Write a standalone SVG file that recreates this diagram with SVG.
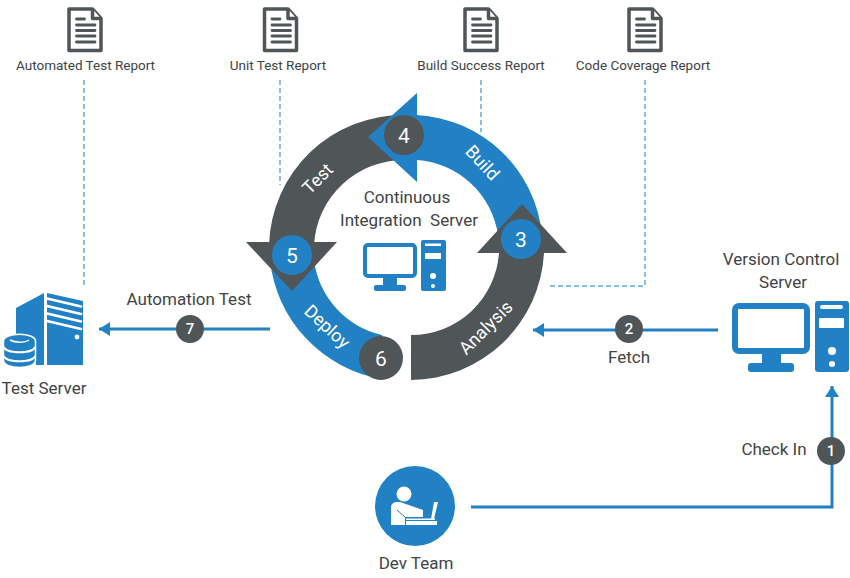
<svg xmlns="http://www.w3.org/2000/svg" width="850" height="578" viewBox="0 0 850 578">
<style>
text{font-family:Roboto,"Liberation Sans",sans-serif;fill:#3f4345;text-anchor:middle}
.lbl{font-size:17px}.rep{font-size:13.500px}.ctr{font-size:17px}
.seg{font-size:18px;fill:#fff}.num{font-size:21px;fill:#fff}.sm{font-size:15px;font-weight:500;fill:#fff}
.b{fill:#2181c4}.g{fill:#505558}.w{fill:#fff}
.dash{fill:none;stroke:#5aa5da;stroke-width:1.400;stroke-dasharray:5 3}
.conn{fill:none;stroke:#2181c4;stroke-width:3}
.doc{fill:#fff;stroke:#505558;stroke-width:3.500;stroke-linejoin:round}
.docl{stroke:#505558;stroke-width:2.800;stroke-linecap:round}
</style>
<defs>
<marker id="ah" markerUnits="userSpaceOnUse" markerWidth="12" markerHeight="14" refX="11" refY="7" orient="auto"><path d="M0 0L11 7L0 14Z" fill="#2181c4"/></marker>
<g id="doc"><path class="doc" d="M-16.500 -21H7L15.500 -11.500V20.500H-16.500Z"/><path class="doc" d="M7 -21V-11.500H15.500" fill="none"/><path class="docl" d="M-9 -11H-1M-9 -5H9.500M-9 0.500H9.500M-9 6H9.500M-9 12H9.500"/></g>
</defs>
<g id="connectors">
<path class="dash" d="M84 80V287"/><path class="dash" d="M280 80V185"/><path class="dash" d="M481 80V132"/><path class="dash" d="M645 80V286H548"/>
<path class="conn" marker-end="url(#ah)" d="M270 329H99"/>
<path class="conn" marker-end="url(#ah)" d="M718 330H533"/>
<path class="conn" marker-end="url(#ah)" d="M471 507H832V386"/>
<circle class="g" cx="190" cy="329" r="14"/><text class="sm" x="190" y="334">7</text>
<circle class="g" cx="629" cy="329" r="14"/><text class="sm" x="629" y="334">2</text>
<circle class="g" cx="831" cy="451" r="14"/><text class="sm" x="831" y="456">1</text>
<text class="lbl" x="189" y="305">Automation Test</text>
<text class="lbl" x="629" y="363">Fetch</text>
<text class="lbl" x="774" y="455">Check In</text>
</g>
<g id="report-automated"><use href="#doc" x="85.500" y="30"/><text class="rep" x="85.500" y="70">Automated Test Report</text></g>
<g id="report-unit"><use href="#doc" x="281" y="30"/><text class="rep" x="278" y="70">Unit Test Report</text></g>
<g id="report-build"><use href="#doc" x="481.500" y="30"/><text class="rep" x="481" y="70">Build Success Report</text></g>
<g id="report-coverage"><use href="#doc" x="645.500" y="30"/><text class="rep" x="643" y="70">Code Coverage Report</text></g>
<g id="ci-ring">
<path class="b" d="M417 115A133 133 0 0 1 542 235L498 235A88 88 0 0 0 417 160Z"/>
<path class="g" d="M411 380A134 134 0 0 0 544 253H499A88 88 0 0 1 411 335Z"/>
<path class="g" d="M477 253H567L522 204Z"/>
<path class="g" d="M405 115A134 134 0 0 0 269 245H314A90 90 0 0 1 405 160Z"/>
<path class="b" d="M417 93V182L368 137Z"/>
<path class="b" d="M270 260A135 135 0 0 0 382 379V335A88 88 0 0 1 314 260Z"/>
<path class="g" d="M246 242H337L292 291Z"/>
<circle class="b" cx="521" cy="239" r="20"/><text class="num" x="521" y="247">3</text>
<circle class="g" cx="404" cy="135" r="20"/><text class="num" x="404" y="143">4</text>
<circle class="b" cx="292" cy="255" r="20"/><text class="num" x="292" y="263">5</text>
<circle class="g" cx="381" cy="358" r="22"/><text class="num" x="381" y="366">6</text>
<text class="seg" transform="translate(478 167) rotate(47)">Build</text>
<text class="seg" transform="translate(322 183) rotate(-45)">Test</text>
<text class="seg" transform="translate(323 331) rotate(43)">Deploy</text>
<text class="seg" transform="translate(490 332) rotate(-45)">Analysis</text>
</g>
<g id="ci-server">
<text class="ctr" x="407" y="203">Continuous</text>
<text class="ctr" x="409" y="226" xml:space="preserve">Integration  Server</text>
<rect x="365" y="245" width="50" height="31" rx="3" fill="#fff" stroke="#2181c4" stroke-width="4"/>
<rect class="b" x="383" y="277" width="14" height="9"/><rect class="b" x="374" y="285" width="32" height="6" rx="2"/>
<rect class="b" x="421" y="240" width="25" height="51" rx="2"/>
<rect class="w" x="425" y="243.500" width="16" height="2.500"/><rect class="w" x="425" y="253" width="16" height="6"/>
<circle class="w" cx="433" cy="276" r="3"/><circle class="w" cx="433" cy="286" r="2"/>
</g>
<g id="version-control">
<text class="lbl" x="781" y="265">Version Control</text><text class="lbl" x="783" y="288">Server</text>
<rect x="735" y="306" width="72" height="45" rx="4" fill="#fff" stroke="#2181c4" stroke-width="6"/>
<rect class="b" x="762" y="353" width="19" height="11"/><rect class="b" x="748" y="363" width="46" height="9" rx="3"/>
<rect class="b" x="815" y="301" width="34" height="71" rx="3"/>
<rect class="w" x="820" y="305" width="23" height="4" rx="2"/><rect class="w" x="819" y="318" width="25" height="10" rx="1"/>
<circle class="w" cx="832" cy="351" r="4"/><circle class="w" cx="832" cy="364" r="3"/>
</g>
<g id="test-server">
<path class="b" d="M16 308L44 293V365H36V340L16 334Z"/>
<path class="b" d="M47 293L83 301V365H47Z"/>
<path d="M47 298.500L81 306.500M47 306L81 314M47 313.500L81 321.500M47 321L81 329" fill="none" stroke="#fff" stroke-width="2.600" stroke-linecap="round"/>
<circle class="w" cx="77" cy="337" r="2.400"/>
<path class="b" stroke="#fff" stroke-width="1.500" d="M3.500 341C3.500 332 35.500 332 35.500 341V360C35.500 370 3.500 370 3.500 360Z"/>
<path d="M10 340C15 343 25 343 29 340" fill="none" stroke="#fff" stroke-width="1.500"/>
<path d="M4 347C6 354 33 354 35 347M4 356C6 363 33 363 35 356" fill="none" stroke="#fff" stroke-width="2"/>
<text class="lbl" x="44" y="394">Test Server</text>
</g>
<g id="dev-team">
<circle class="b" cx="415" cy="506" r="40"/>
<circle class="w" cx="404" cy="494" r="7.500"/>
<path class="w" d="M391 525V507C391 504 394 502 397 502H400L423 510V517H405V525Z"/>
<path d="M397 510L405 517" fill="none" stroke="#2181c4" stroke-width="1"/>
<path class="w" d="M406 518.500H435V520H406ZM406 521H437V525H406Z"/>
<path class="w" d="M434 502H438L434 519H431Z"/>
<text class="lbl" x="416" y="569">Dev Team</text>
</g>
</svg>
